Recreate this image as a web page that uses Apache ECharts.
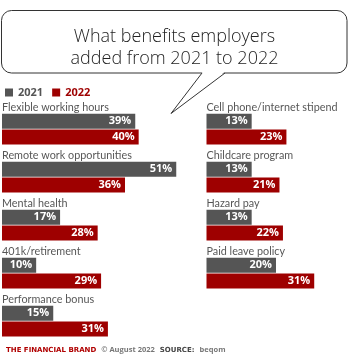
<!DOCTYPE html>
<html><head><meta charset="utf-8">
<script src="https://cdn.jsdelivr.net/npm/echarts@6/dist/echarts.min.js"></script>
<style>html,body{margin:0;padding:0;background:#fff}#c{width:349px;height:360px}</style>
</head><body><div id="c"></div>
<script>
const leftCategories = ['Flexible working hours','Remote work opportunities','Mental health','401k/retirement','Performance bonus'];
const left2021 = [39,51,17,10,15];
const left2022 = [40,36,28,29,31];
const rightCategories = ['Cell phone/internet stipend','Childcare program','Hazard pay','Paid leave policy'];
const right2021 = [13,13,13,20];
const right2022 = [23,21,22,31];
const seriesNames = ['2021','2022'];
const titleLines = ['What benefits employers','added from 2021 to 2022'];

const GRAY = '#555555', RED = '#9e0000';
const FONT = 'Open Sans';
const chart = echarts.init(document.getElementById('c'), null, {renderer:'canvas'});

const valLabel = {show:true, position:'insideRight', distance:4, color:'#fff', fontFamily:FONT, fontWeight:'bold', fontSize:11, formatter:'{c}%'};
function bars(idx, d21, d22){
  return [
    {name:seriesNames[0], type:'bar', xAxisIndex:idx, yAxisIndex:idx, data:d21, barWidth:15, barGap:'5%', itemStyle:{color:GRAY}, label:valLabel, silent:true},
    {name:seriesNames[1], type:'bar', xAxisIndex:idx, yAxisIndex:idx, data:d22, barWidth:15, barGap:'5%', itemStyle:{color:RED}, label:valLabel, silent:true}
  ];
}
function names(idx, cats){
  return {type:'scatter', xAxisIndex:idx, yAxisIndex:idx, symbolSize:0, silent:true, clip:false,
    data:cats.map(c=>({value:[0,c], name:c})),
    label:{show:true, position:'right', distance:0, offset:[0,-21], formatter:'{b}', color:'#2a2a2a', fontFamily:'Lato', fontSize:10.8}};
}
const catAxis = (idx, cats)=>({type:'category', gridIndex:idx, data:cats, inverse:true, show:false});

chart.setOption({
  animation:false,
  grid:[
    {left:2, top:105, width:205, height:240},
    {left:206.5, top:105, width:139, height:192}
  ],
  xAxis:[
    {type:'value', gridIndex:0, min:0, max:60, show:false},
    {type:'value', gridIndex:1, min:0, max:40, show:false}
  ],
  yAxis:[catAxis(0,leftCategories), catAxis(1,rightCategories)],
  legend:{left:0, top:82, itemWidth:8, itemHeight:8, itemGap:9, icon:'rect', selectedMode:false,
    textStyle:{fontFamily:FONT, fontWeight:'bold', fontSize:11},
    data:[{name:seriesNames[0], textStyle:{color:GRAY}}, {name:seriesNames[1], textStyle:{color:RED}}]},
  title:[
    {text:titleLines.join('\n'), left:'center', top:21,
      textStyle:{fontFamily:FONT, fontWeight:300, fontSize:18, color:'#222', lineHeight:22, align:'center'}},
    {text:'{a|THE FINANCIAL BRAND} {b|© August 2022} {c|SOURCE:} {b|beqom}', left:1, top:336,
      textStyle:{rich:{
        a:{fontFamily:'DejaVu Sans', fontWeight:'bold', fontSize:7, color:'#b00000'},
        b:{fontFamily:FONT, fontSize:7.5, color:'#777'},
        c:{fontFamily:'DejaVu Sans', fontWeight:'bold', fontSize:7, color:'#444'}
      }}}
  ],
  graphic:[
    {type:'rect', z:-2, shape:{x:1.5, y:10.5, width:345.5, height:62.5, r:10}, style:{fill:'#fff', stroke:'#333', lineWidth:1}},
    {type:'polygon', z:-1, shape:{points:[[202.5,72],[171,113.5],[224.5,72]]}, style:{fill:'#fff'}},
    {type:'polyline', z:-1, shape:{points:[[202,73],[171,113.5],[225,73]]}, style:{fill:null, stroke:'#333', lineWidth:1}}
  ],
  series:[...bars(0,left2021,left2022), ...bars(1,right2021,right2022), names(0,leftCategories), names(1,rightCategories)]
});
</script></body></html>
